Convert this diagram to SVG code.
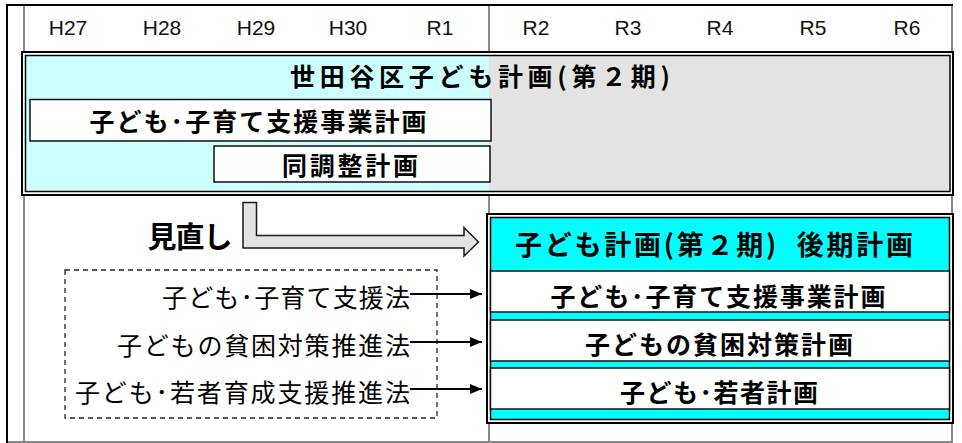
<svg xmlns="http://www.w3.org/2000/svg" width="962" height="443" viewBox="0 0 962 443">
<style>
.grid{stroke:#8a8a8a;stroke-width:2;fill:none}
.frame{stroke:#000;stroke-width:2;fill:none}
.hdr{font-family:"Liberation Sans",Arial,sans-serif;font-size:21px;fill:#111;text-anchor:middle}
.jb{font-family:"Noto Sans CJK JP","Noto Sans",sans-serif;font-weight:bold;fill:#000;text-anchor:middle;dominant-baseline:central}
.jr{font-family:"Noto Sans CJK JP","Noto Sans",sans-serif;font-weight:normal;fill:#000;text-anchor:end;dominant-baseline:central;font-size:25px}
.box{fill:#fff;stroke:#111;stroke-width:1.5}
.conn{stroke:#000;stroke-width:2.2;fill:none}
</style>
<defs>
<marker id="ah" markerWidth="12" markerHeight="10" refX="12" refY="5" orient="auto" markerUnits="userSpaceOnUse">
<path d="M0,0 L12,5 L0,10 Z" fill="#000"/>
</marker>
</defs>
<rect x="0" y="0" width="962" height="443" fill="#fff"/>
<g id="grid">
<line class="grid" x1="24" y1="5" x2="24" y2="442"/>
<line class="grid" x1="489" y1="5" x2="489" y2="442"/>
<line class="grid" x1="952" y1="5" x2="952" y2="442"/>
<line class="grid" x1="7" y1="442" x2="953" y2="442"/>
<line class="frame" x1="7" y1="5" x2="953" y2="5"/>
<line class="frame" x1="7" y1="4" x2="7" y2="443"/>
</g>
<g id="header">
<text class="hdr" x="68" y="35">H27</text>
<text class="hdr" x="162" y="35">H28</text>
<text class="hdr" x="256" y="35">H29</text>
<text class="hdr" x="348" y="35">H30</text>
<text class="hdr" x="440" y="35">R1</text>
<text class="hdr" x="536" y="35">R2</text>
<text class="hdr" x="628" y="35">R3</text>
<text class="hdr" x="720" y="35">R4</text>
<text class="hdr" x="813" y="35">R5</text>
<text class="hdr" x="907" y="35">R6</text>
</g>
<g id="plan2">
<rect x="22" y="52" width="931" height="143" fill="#fff" stroke="#000" stroke-width="2"/>
<rect x="25.5" y="55.5" width="463" height="136" fill="#ccffff"/>
<rect x="488.5" y="55.5" width="461.5" height="136" fill="#e3e3e3"/>
<rect x="25.5" y="55.5" width="924.5" height="136" fill="none" stroke="#000" stroke-width="1.5"/>
<text class="jb" x="480" y="75" font-size="25" textLength="380" lengthAdjust="spacing">世田谷区子ども計画(第２期)</text>
</g>
<g id="jigyo1">
<rect class="box" x="30" y="99.5" width="461" height="41.5"/>
<text class="jb" x="258" y="120" font-size="25" textLength="337" lengthAdjust="spacing">子ども･子育て支援事業計画</text>
</g>
<g id="chosei">
<rect class="box" x="214" y="146" width="276" height="36"/>
<text class="jb" x="350" y="164" font-size="25" textLength="136" lengthAdjust="spacing">同調整計画</text>
</g>
<g id="minaoshi">
<text class="jb" x="190" y="235" font-size="29" textLength="85" lengthAdjust="spacing">見直し</text>
<path d="M243,202.5 L256.5,202.5 L256.5,235.5 L464,235.5 L464,227.5 L478.5,242 L464,256 L464,248 L243,248 Z" fill="#e3e3e3" stroke="#1a1a1a" stroke-width="1.5" stroke-linejoin="miter"/>
</g>
<g id="laws">
<rect x="65" y="270" width="372" height="148" fill="none" stroke="#222" stroke-width="1.3" stroke-dasharray="5,4"/>
<text class="jr" x="410" y="296" textLength="248" lengthAdjust="spacing">子ども･子育て支援法</text>
<text class="jr" x="410" y="344" textLength="293" lengthAdjust="spacing">子どもの貧困対策推進法</text>
<text class="jr" x="410" y="391" textLength="335" lengthAdjust="spacing">子ども･若者育成支援推進法</text>
</g>
<g id="connectors">
<line class="conn" x1="410" y1="294" x2="482" y2="294" marker-end="url(#ah)"/>
<line class="conn" x1="410" y1="342" x2="482" y2="342" marker-end="url(#ah)"/>
<line class="conn" x1="410" y1="389" x2="482" y2="389" marker-end="url(#ah)"/>
</g>
<g id="kouki">
<rect x="487" y="214" width="466" height="209" fill="#fff" stroke="#000" stroke-width="2"/>
<rect x="490.5" y="217.5" width="459" height="202" fill="#00ffff" stroke="#000" stroke-width="1.5"/>
<text class="jb" x="714" y="243" font-size="27" textLength="398" lengthAdjust="spacing" xml:space="preserve">子ども計画(第２期)  後期計画</text>
</g>
<g id="kouki1">
<rect class="box" x="490.5" y="271" width="459" height="41"/>
<text class="jb" x="718" y="295" font-size="25" textLength="335" lengthAdjust="spacing">子ども･子育て支援事業計画</text>
</g>
<g id="kouki2">
<rect class="box" x="490.5" y="320" width="459" height="41"/>
<text class="jb" x="719" y="343" font-size="25" textLength="268" lengthAdjust="spacing">子どもの貧困対策計画</text>
</g>
<g id="kouki3">
<rect class="box" x="490.5" y="368" width="459" height="41"/>
<text class="jb" x="719" y="391" font-size="25" textLength="198" lengthAdjust="spacing">子ども･若者計画</text>
</g>
</svg>
